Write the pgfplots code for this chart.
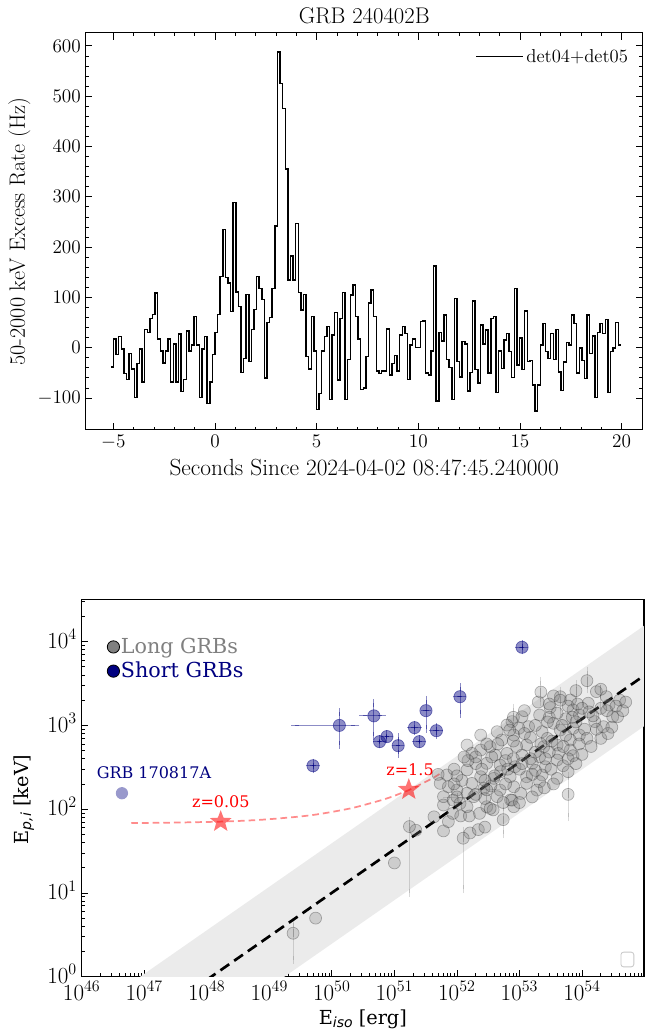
\documentclass[border=0pt]{standalone}
\usepackage{fontspec}
\usepackage{pgfplots}
\pgfplotsset{compat=1.18}
\newfontfamily\djserif{DejaVu Serif}
\newfontfamily\djsans{DejaVu Sans}
\definecolor{navyc}{HTML}{000080}
\definecolor{bandc}{HTML}{EBEBEB}
\pgfdeclareplotmark{fstar}{%
  \pgfpathmoveto{\pgfpointpolar{90}{\pgfplotmarksize}}%
  \pgfpathlineto{\pgfpointpolar{126}{0.42\pgfplotmarksize}}%
  \pgfpathlineto{\pgfpointpolar{162}{\pgfplotmarksize}}%
  \pgfpathlineto{\pgfpointpolar{198}{0.42\pgfplotmarksize}}%
  \pgfpathlineto{\pgfpointpolar{234}{\pgfplotmarksize}}%
  \pgfpathlineto{\pgfpointpolar{270}{0.42\pgfplotmarksize}}%
  \pgfpathlineto{\pgfpointpolar{306}{\pgfplotmarksize}}%
  \pgfpathlineto{\pgfpointpolar{342}{0.42\pgfplotmarksize}}%
  \pgfpathlineto{\pgfpointpolar{18}{\pgfplotmarksize}}%
  \pgfpathlineto{\pgfpointpolar{54}{0.42\pgfplotmarksize}}%
  \pgfpathclose
  \pgfusepathqfill
}
\begin{document}
\begin{tikzpicture}
\path[use as bounding box] (-64.1pt,-450pt) rectangle (419.6pt,322.5pt);
% ---------------- top panel ----------------
\begin{axis}[name=top, at={(0pt,0pt)}, anchor=south west, scale only axis,
  width=418.1pt, height=297.75pt,
  xmin=-6.37, xmax=21.05, ymin=-163.6, ymax=625.6,
  xtick={-5,0,5,10,15,20}, ytick={-100,0,100,200,300,400,500,600},
  minor x tick num=4, minor y tick num=4,
  tick align=inside, tick pos=both,
  major tick length=5pt, minor tick length=2.6pt,
  every tick/.style={black, line width=0.6pt},
  axis line style={line width=0.75pt},
  tick label style={font=\fontsize{14.5}{17}\selectfont},
  xlabel={Seconds Since 2024-04-02 08:47:45.240000},
  xlabel style={font=\fontsize{17.5}{20}\selectfont, at={(axis description cs:0.5,0)}, anchor=base, yshift=-34pt},
  ylabel={50-2000 keV Excess Rate (Hz)},
  ylabel style={font=\fontsize{16.6}{19}\selectfont, at={(axis description cs:-0.1085,0.5)}, anchor=base},
  legend style={draw=none, fill=none, at={(axis description cs:1,1)}, anchor=north east, xshift=-6pt, yshift=-8pt, font=\fontsize{14}{16}\selectfont},
  legend image code/.code={\draw[#1] (0pt,0pt) -- (28pt,0pt); \path (0pt,0pt) -- (35pt,0pt);},
]
\addplot[const plot, black, line width=1.1pt] table {
t y
-5.120 -38
-4.992 17
-4.864 -13
-4.736 22
-4.608 -3
-4.480 -51
-4.352 -63
-4.224 -11
-4.096 -42
-3.968 -99
-3.840 -31
-3.712 -3
-3.584 -68
-3.456 36
-3.328 30
-3.200 58
-3.072 66
-2.944 109
-2.816 17
-2.688 -7
-2.560 -30
-2.432 -7
-2.304 17
-2.176 -68
-2.048 7
-1.920 -68
-1.792 27
-1.664 -87
-1.536 -63
-1.408 33
-1.280 -7
-1.152 5
-1.024 62
-0.896 5
-0.768 -99
-0.640 -3
-0.512 22
-0.384 -111
-0.256 -68
-0.128 -13
0.000 30
0.128 66
0.256 142
0.384 235
0.512 140
0.640 129
0.768 72
0.896 289
1.024 111
1.152 82
1.280 -49
1.408 -21
1.536 106
1.664 -27
1.792 36
1.920 76
2.048 142
2.176 118
2.304 96
2.432 -60
2.560 50
2.688 60
2.816 118
2.944 242
3.072 588
3.200 525
3.328 476
3.456 355
3.584 135
3.712 182
3.840 135
3.968 247
4.096 110
4.224 75
4.352 106
4.480 -18
4.608 -42
4.736 62
4.864 -7
4.992 -123
5.120 -91
5.248 -7
5.376 22
5.504 42
5.632 -103
5.760 25
5.888 70
6.016 -64
6.144 58
6.272 110
6.400 -103
6.528 -23
6.656 105
6.784 125
6.912 62
7.040 17
7.168 -83
7.296 -80
7.424 -18
7.552 89
7.680 115
7.808 62
7.936 -46
8.064 -51
8.192 -46
8.320 -46
8.448 37
8.576 -54
8.704 -31
8.832 -15
8.960 -46
9.088 25
9.216 42
9.344 28
9.472 -63
9.600 5
9.728 17
9.856 0
9.984 0
10.112 52
10.240 53
10.368 -50
10.496 -54
10.624 -7
10.752 162
10.880 -106
11.008 30
11.136 13
11.264 65
11.392 -23
11.520 -39
11.648 -103
11.776 98
11.904 -27
12.032 -58
12.160 12
12.288 7
12.416 -86
12.544 -49
12.672 93
12.800 -43
12.928 -70
13.056 45
13.184 7
13.312 35
13.440 -50
13.568 58
13.696 62
13.824 -89
13.952 -7
14.080 -41
14.208 15
14.336 28
14.464 -8
14.592 -59
14.720 118
14.848 -34
14.976 19
15.104 -43
15.232 73
15.360 -27
15.488 -25
15.616 -74
15.744 -126
15.872 -74
16.000 5
16.128 48
16.256 -8
16.384 -21
16.512 28
16.640 -23
16.768 36
16.896 -48
17.024 -85
17.152 -28
17.280 10
17.408 5
17.536 65
17.664 48
17.792 -50
17.920 -1
18.048 -25
18.176 -61
18.304 65
18.432 -11
18.560 23
18.688 -99
18.816 30
18.944 48
19.072 28
19.200 56
19.328 -89
19.456 -8
19.584 -1
19.712 50
19.840 5
19.968 5
};
\addlegendentry{det04+det05}
\end{axis}
\node[anchor=base, font=\fontsize{17}{20}\selectfont] at ([yshift=6.75pt]top.north) {GRB 240402B};
% ---------------- bottom panel ----------------
\begin{axis}[name=bot, at={(-2.85pt,-410pt)}, anchor=south west, scale only axis,
  width=421.7pt, height=283pt,
  xmode=log, ymode=log,
  xmin=1e46, xmax=9.8e54, ymin=1, ymax=3.2e4,
  tick align=inside, tick pos=left,
  major tick length=5pt, minor tick length=2.6pt,
  every tick/.style={black, line width=0.6pt},
  axis line style={line width=0.8pt},
  tick label style={font=\fontsize{17.5}{20}\selectfont},
  yticklabel style={yshift=2pt},
  xlabel={{\djserif E}\raisebox{-0.35ex}{\fontsize{10.5}{12}\selectfont\djsans\itshape iso}{\djserif\ [erg]}},
  xlabel style={font=\fontsize{14.5}{17}\selectfont, at={(axis description cs:0.5,0)}, anchor=base, yshift=-36.2pt},
  ylabel={{\djserif E}\raisebox{-0.35ex}{\fontsize{10.5}{12}\selectfont\djsans\itshape p,i}{\djserif\ [keV]}},
  ylabel style={font=\fontsize{14.5}{17}\selectfont, at={(axis description cs:-0.095,0.47)}, anchor=base},
  legend style={draw=none, fill=none, at={(axis description cs:0,1)}, anchor=north west, xshift=16pt, yshift=-26pt,
    font=\djserif\fontsize{15.5}{18}\selectfont, row sep=3pt, nodes={inner sep=1pt}},
  legend cell align=left,
  legend image code/.code={\draw[#1] plot coordinates {(0pt,0pt)};},
]
\addlegendimage{only marks, mark=*, mark size=4.6pt, mark options={fill=gray, draw=black, line width=0.6pt}}
\addlegendentry{\textcolor{gray}{Long GRBs}}
\addlegendimage{only marks, mark=*, mark size=4.6pt, mark options={fill=navyc, draw=black, line width=0.6pt}}
\addlegendentry{\textcolor{navyc}{Short GRBs}}
% band
\addplot[fill=bandc, draw=none, forget plot] coordinates {(1e46,0.326) (9.8e54,15450) (9.8e54,975) (1e46,0.0206)} -- cycle;
% long GRBs without errors
\addplot[only marks, mark=*, mark size=4.5pt, mark options={fill=gray, fill opacity=0.28, draw=black, draw opacity=0.28, line width=0.5pt}, forget plot] coordinates {
(5.5e49,5.0) (1.0e51,22.8) (2.2e51,56) (4.3e51,81) (6.1e51,55) (7.3e51,71) (8.6e51,89)
(1.15e52,83) (1.58e52,83) (1.62e52,52) (2.2e52,57) (2.3e52,89) (2.8e52,61) (3.0e52,107)
(3.8e52,98) (7.2e52,129) (6.1e51,112)
(1.7e54,2530) (2.45e54,2200) (4.0e54,2010) (2.7e54,1750) (1.26e54,1840) (6.5e53,2010)
(4.5e53,2200) (3.5e53,2250) (3.1e53,1630) (7.2e53,1530) (9.1e53,1330) (3.1e54,1270)
(2.2e54,966) (3.7e54,1270) (1.6e54,1110) (7.6e52,1110) (1.1e53,1270) (9.8e52,923)
(1.4e53,966) (2.1e53,1330) (2.3e53,841) (3.5e53,1060) (4.5e53,881) (7.2e53,923)
(9.1e53,767) (6.5e53,670) (4.0e53,583) (2.45e53,557) (1.3e53,583) (8.1e52,767)
(5.2e52,670) (6.3e52,463) (1.1e53,442) (2.1e53,423) (4.2e53,463) (6.5e53,508)
(7.2e53,435) (4.1e52,442) (3.0e52,352) (4.9e52,336) (8.5e52,321) (1.6e53,352)
(2.6e53,321) (4.0e53,386) (2.3e53,256) (1.3e53,244) (7.1e52,244) (3.9e52,233)
(2.4e52,244) (1.45e52,294) (1.74e52,203) (2.7e52,177) (4.9e52,169) (8.1e52,185)
(1.3e53,203) (2.1e53,213) (4.0e53,233) (1.05e53,154) (1.9e53,169) (7.6e52,128)
(4.4e52,141) (2.8e52,134) (1.86e52,141) (1.45e52,155) (1.0e52,169) (6.9e51,256)
(7.3e51,185) (5.4e51,203) (6.1e51,141) (8.7e51,128) (1.12e52,117) (1.45e52,107)
(3.4e52,102) (8.1e52,107) (1.45e52,583) (1.74e52,463) (2.4e52,508) (3.4e52,557)
(2.4e52,767) (4.4e52,841) (6.3e52,1010)
(5.0e52,280) (6.0e52,380) (9.0e52,560) (1.5e53,720) (1.8e53,480) (2.8e53,700)
(3.0e53,1250) (5.5e53,1200) (5.5e53,760) (8.0e53,1100) (1.1e54,900) (1.3e54,1450)
(2.0e54,1600) (2.0e52,350) (3.5e52,190) (6.0e52,200) (1.0e53,300) (1.8e53,290)
(3.2e53,300) (5.0e53,330) (3.0e52,600) (1.2e53,1500) (2.5e52,300) (1.2e52,220) (9.0e51,300)
(2.0e53,1900) (3.0e53,1800) (4.0e53,1400) (6.0e53,1700) (8.5e53,1800) (1.0e54,1600)
(1.5e54,1300) (2.5e54,1500) (3.5e54,1700) (4.5e54,1500) (5.0e54,1900) (3.0e54,950)
(1.2e54,700) (9.0e53,600) (6.0e53,400) (3.0e53,480) (1.5e53,400) (8.0e52,400)
(4.5e52,600) (2.0e52,420) (1.5e52,380) (1.0e52,250) (2.0e52,150) (5.5e52,120)
(1.0e53,120) (1.6e53,140) (2.5e53,180) (3.5e53,200) (6.0e53,280) (8.0e53,350)
(1.0e54,450) (1.4e54,560) (2.0e54,700) (2.6e54,800) (7.0e52,880) (1.2e53,800)
(1.8e53,1000) (2.8e53,1100) (4.8e53,1000) (7.0e53,1250) (2.2e53,600) (3.3e53,650)
(5.0e53,560) (8.0e52,650) (1.1e53,350) (6.5e52,300) (4.0e52,250) (2.8e52,220)
(3.6e52,420) (1.3e52,420) (9.0e51,200) (5.0e51,260) (1.6e53,260) (2.6e53,400)
};
% long GRBs with errors
\addplot[only marks, mark=*, mark size=4.5pt, mark options={fill=gray, fill opacity=0.28, draw=black, draw opacity=0.28, line width=0.5pt}, forget plot,
  error bars/.cd, x dir=both, y dir=both, x explicit, y explicit,
  error bar style={gray, opacity=0.3, line width=0.6pt},
  error mark options={gray, opacity=0.3, mark size=3pt, line width=0.6pt}] coordinates {
(2.4e49,3.3) += (0,1.1) -= (0,1.7)
(1.74e51,62) += (0,10) -= (0,52)
(1.26e52,45) += (0,10) -= (0,34)
(1.2e54,3420) += (0,1100) -= (0,700)
(8.0e52,1250) += (0,380) -= (0,290)
(1.7e54,900) += (0,370) -= (0,285)
(4.5e53,2000) += (0,600) -= (0,500)
(3.0e52,170) += (1.2e52,40) -= (1.0e52,40)
(6.0e53,150) += (0,100) -= (0,70)
(5.5e52,75) += (0,30) -= (0,25)
(1.0e52,140) += (0.4e52,0) -= (0.3e52,0)
(2.2e53,2500) += (0,900) -= (0,600)
(2.0e54,2700) += (0,0) -= (0,1200)
(8.0e53,2600) += (0,500) -= (0,500)
};
% short GRBs
\addplot[only marks, mark=*, mark size=4.6pt, mark options={fill=navyc, fill opacity=0.45, draw=navyc, draw opacity=0.5, line width=0.5pt}, forget plot,
  error bars/.cd, x dir=both, y dir=both, x explicit, y explicit,
  error bar style={navyc, opacity=0.45, line width=0.7pt},
  error mark options={navyc, opacity=0.45, mark size=3pt, line width=0.7pt}] coordinates {
(5.0e49,330) +- (0.6e49,30)
(1.32e50,1000) += (1.06e50,435) -= (1.06e50,415)
(4.7e50,1300) += (1.6e50,540) -= (1.5e50,550)
(5.8e50,640) +- (0.5e50,40)
(7.6e50,735) +- (0.6e50,50)
(1.15e51,573) += (0.1e51,147) -= (0.1e51,113)
(2.1e51,940) +- (0.25e51,80)
(2.5e51,640) +- (0.3e51,40)
(3.2e51,1500) += (0.1e51,520) -= (0.1e51,590)
(4.7e51,865) +- (0.5e51,90)
(1.12e52,2200) += (0.1e52,660) -= (0.1e52,830)
(1.1e53,8570) +- (0.1e53,700)
};
% GRB 170817A
\addplot[only marks, mark=*, mark size=4.6pt, mark options={fill=navyc, fill opacity=0.4, draw opacity=0}, forget plot] coordinates {(4.4e46,155)};
% Amati line
\addplot[black, line width=2pt, dash pattern=on 8pt off 4.5pt, forget plot] coordinates {(1e48,0.917) (9.8e54,3920)};
% redshift track
\addplot[red, opacity=0.45, line width=1.3pt, dash pattern=on 5pt off 3pt, smooth, forget plot] coordinates {
(6.2e46,68.3) (2.6e47,69.0) (1.67e48,71) (6.8e48,74.4) (2.8e49,81.1) (6.6e49,87.9)
(1.9e50,101.4) (3.7e50,115) (7.8e50,135.2) (1.7e51,169) (2.8e51,202.9) (4.2e51,236.7) (5.6e51,270.5)};
% stars
\addplot[only marks, mark=fstar, mark size=8.6pt, mark options={fill=red, fill opacity=0.55, draw=none}, forget plot] coordinates {(1.67e48,71) (1.7e51,171)};
\node[font=\djserif\fontsize{12}{14}\selectfont, text=navyc] at (axis cs:1.43e47,270) {GRB 170817A};
\node[font=\djserif\fontsize{12}{14}\selectfont, text=red] at (axis cs:1.68e48,122) {z=0.05};
\node[font=\djserif\fontsize{12}{14}\selectfont, text=red] at (axis cs:1.78e51,294) {z=1.5};
\draw[gray!45, line width=0.6pt, rounded corners=2pt] (axis description cs:0.959,0.026) rectangle (axis description cs:0.982,0.065);
\end{axis}
\end{tikzpicture}
\end{document}
